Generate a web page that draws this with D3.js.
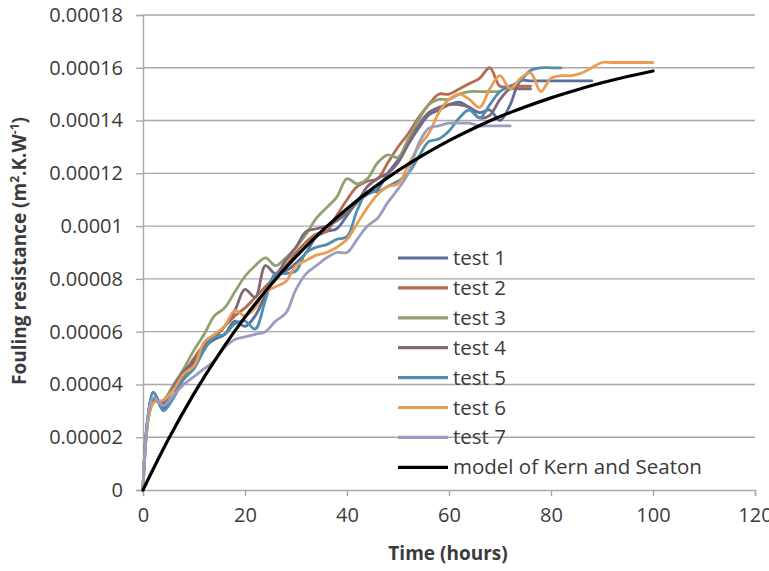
<!DOCTYPE html>
<html>
<head>
<meta charset="utf-8">
<script src="https://cdn.jsdelivr.net/npm/d3@7"></script>
<style>
  html, body { margin: 0; padding: 0; background: #fff; }
  svg { display: block; font-family: 'Open Sans', sans-serif; }
</style>
</head>
<body>
<svg id="chart" width="769" height="571"></svg>
<script>
// time stamps of the test readings (hours)
const HOURS = [0, 2, 4, 6, 8, 10, 12, 14, 16, 18, 20, 22, 24, 26, 28, 30, 32, 34, 36, 38,
  40, 42, 44, 46, 48, 50, 52, 54, 56, 58, 60, 62, 64, 66, 68, 70, 72, 74, 76, 78,
  80, 82, 84, 86, 88, 90, 92, 94, 96, 98, 100];

// fouling resistance, in units of 1e-5 m2.K/W
const TEST1 = [0, 3.7, 3.1, 3.6, 4.3, 4.8, 5.4, 5.7, 5.9, 6.4, 6.2, 6.6, 7.4, 8.2, 8.3, 8.6, 9.0, 9.6, 9.8, 9.9,
  10.4, 10.9, 11.2, 11.4, 12.0, 12.5, 13.1, 13.7, 14.2, 14.4, 14.6, 14.7, 14.5, 14.3, 14.4, 14.0, 14.6, 15.5, 15.5, 15.5,
  15.5, 15.5, 15.5, 15.5, 15.5];
const TEST2 = [0, 3.4, 3.3, 3.9, 4.4, 5.0, 5.5, 5.8, 6.2, 6.6, 6.9, 7.3, 7.7, 8.1, 8.5, 9.0, 9.4, 9.7, 9.8, 10.4,
  11.0, 11.5, 11.7, 11.8, 12.4, 13.0, 13.5, 14.1, 14.6, 15.0, 15.0, 15.2, 15.4, 15.6, 16.0, 15.3, 15.3, 15.3, 15.3];
const TEST3 = [0, 3.3, 3.4, 4.0, 4.6, 5.3, 5.9, 6.6, 6.9, 7.5, 8.1, 8.5, 8.8, 8.5, 8.8, 9.2, 9.7, 10.3, 10.7, 11.1,
  11.8, 11.6, 11.8, 12.4, 12.7, 12.6, 13.3, 14.0, 14.6, 14.8, 14.8, 15.0, 15.1, 15.1, 15.1, 15.1];
const TEST4 = [0, 3.4, 3.3, 3.9, 4.5, 4.9, 5.5, 5.8, 6.2, 6.8, 7.6, 7.3, 8.5, 8.2, 8.7, 9.2, 9.8, 9.9, 10.0, 10.2,
  10.5, 10.9, 11.5, 11.8, 12.0, 12.4, 13.1, 13.8, 14.3, 14.5, 14.6, 14.6, 14.5, 14.1, 14.2, 14.8, 15.2, 15.2, 15.2];
const TEST5 = [0, 3.7, 3.0, 3.5, 4.2, 4.6, 5.3, 5.8, 5.9, 6.3, 6.4, 6.1, 7.2, 8.2, 8.2, 8.3, 9.0, 9.2, 9.3, 9.5,
  9.6, 10.6, 11.3, 11.3, 11.5, 11.7, 12.0, 12.6, 13.2, 13.3, 13.6, 14.1, 14.4, 14.1, 14.6, 15.1, 15.3, 15.5, 15.9, 16.0,
  16.0, 16.0];
const TEST6 = [0, 3.3, 3.4, 3.8, 4.4, 4.7, 5.6, 5.9, 6.2, 6.8, 6.6, 6.9, 7.5, 7.7, 7.9, 8.5, 8.7, 8.9, 9.0, 9.2,
  9.5, 10.1, 10.7, 11.2, 11.5, 11.6, 12.3, 13.0, 13.5, 14.3, 14.8, 15.0, 14.8, 14.5, 15.2, 15.7, 15.2, 15.6, 15.8, 15.1,
  15.6, 15.7, 15.7, 15.8, 16.0, 16.2, 16.2, 16.2, 16.2, 16.2, 16.2];
const TEST7 = [0, 3.5, 3.2, 3.6, 4.0, 4.3, 4.6, 4.9, 5.4, 5.7, 5.8, 5.9, 6.0, 6.4, 6.7, 7.6, 8.2, 8.5, 8.8, 9.0,
  9.0, 9.5, 10.0, 10.3, 10.9, 11.4, 12.0, 13.1, 13.7, 13.8, 13.9, 13.9, 13.9, 13.8, 13.8, 13.8, 13.8];

// model of Kern and Seaton
const MODEL_HOURS = [0, 5, 10, 15, 20, 25, 30, 35, 40, 45, 50, 55, 60, 65, 70, 75, 80, 85, 90, 95, 100];
const MODEL_VALUES = [0, 1.93, 3.65, 5.18, 6.55, 7.76, 8.84, 9.80, 10.66, 11.42, 12.10, 12.70, 13.24, 13.72,
  14.15, 14.52, 14.86, 15.16, 15.43, 15.67, 15.88];

const SERIES_NAMES = ['test 1', 'test 2', 'test 3', 'test 4', 'test 5', 'test 6', 'test 7', 'model of Kern and Seaton'];
const SERIES_COLORS = ['#5a6e9b', '#b66a50', '#90a170', '#806879', '#4f8fae', '#eb9c52', '#9c9cbd', '#000000'];

const X_TICKS = [0, 20, 40, 60, 80, 100, 120];
const Y_TICKS = [0, 0.00002, 0.00004, 0.00006, 0.00008, 0.0001, 0.00012, 0.00014, 0.00016, 0.00018];
const Y_TICK_LABELS = ['0', '0.00002', '0.00004', '0.00006', '0.00008', '0.0001', '0.00012', '0.00014', '0.00016', '0.00018'];

const svg = d3.select('#chart');
const plotL = 143, plotR = 755, plotT = 15, plotB = 490;
const GRID = '#a8a8a8';
const TEXT = '#3b3b3b';

const x = d3.scaleLinear().domain([0, 120]).range([plotL, plotR]);
const y = d3.scaleLinear().domain([0, 0.00018]).range([plotB, plotT]);

// horizontal gridlines
svg.append('g').selectAll('line').data(Y_TICKS.slice(1)).join('line')
  .attr('x1', plotL).attr('x2', plotR)
  .attr('y1', d => y(d)).attr('y2', d => y(d))
  .attr('stroke', GRID).attr('stroke-width', 1.4);

// y axis
const yAxis = svg.append('g').attr('transform', `translate(${plotL},0)`)
  .call(d3.axisLeft(y).tickValues(Y_TICKS).tickSize(7).tickPadding(13)
    .tickFormat((d, i) => Y_TICK_LABELS[i]));
yAxis.select('.domain').attr('stroke', GRID).attr('stroke-width', 1.4);
yAxis.selectAll('.tick line').attr('stroke', GRID).attr('stroke-width', 1.4);
yAxis.selectAll('.tick text').attr('fill', TEXT).attr('font-size', 20)
  .attr('font-family', 'Open Sans, sans-serif');

// x axis
const xAxis = svg.append('g').attr('transform', `translate(0,${plotB})`)
  .call(d3.axisBottom(x).tickValues(X_TICKS).tickSize(6).tickPadding(12));
xAxis.select('.domain').attr('stroke', GRID).attr('stroke-width', 1.4);
xAxis.selectAll('.tick line').attr('stroke', GRID).attr('stroke-width', 1.4);
xAxis.selectAll('.tick text').attr('fill', TEXT).attr('font-size', 20)
  .attr('font-family', 'Open Sans, sans-serif');

// axis titles
svg.append('text')
  .attr('x', 448).attr('y', 560)
  .attr('text-anchor', 'middle')
  .attr('font-size', 19).attr('font-weight', 'bold').attr('fill', TEXT)
  .text('Time (hours)');

const yTitle = svg.append('text')
  .attr('transform', 'translate(26,251) rotate(-90)')
  .attr('text-anchor', 'middle')
  .attr('font-size', 19).attr('font-weight', 'bold').attr('fill', TEXT);
yTitle.append('tspan').text('Fouling resistance (m');
yTitle.append('tspan').attr('font-size', 12).attr('dy', -7).text('2');
yTitle.append('tspan').attr('dy', 7).text('.K.W');
yTitle.append('tspan').attr('font-size', 12).attr('dy', -7).text('-1');
yTitle.append('tspan').attr('dy', 7).text(')');

// test curves + model
const tests = [TEST1, TEST2, TEST3, TEST4, TEST5, TEST6, TEST7];
const series = tests.map(vals => vals.map((v, i) => [HOURS[i], v * 1e-5]));
series.push(MODEL_VALUES.map((v, i) => [MODEL_HOURS[i], v * 1e-5]));

const line = d3.line()
  .x(d => x(d[0])).y(d => y(d[1]))
  .curve(d3.curveCatmullRom.alpha(0.5));

svg.append('g').selectAll('path').data(series).join('path')
  .attr('d', line)
  .attr('fill', 'none')
  .attr('stroke', (d, i) => SERIES_COLORS[i])
  .attr('stroke-width', (d, i) => i === 7 ? 3.2 : 2.8)
  .attr('stroke-linejoin', 'round')
  .attr('stroke-linecap', 'round');

// legend
const legend = svg.append('g').selectAll('g').data(SERIES_NAMES).join('g')
  .attr('transform', (d, i) => `translate(398,${258 + i * 29.9})`);
legend.append('line')
  .attr('x1', 0).attr('x2', 50)
  .attr('stroke', (d, i) => SERIES_COLORS[i])
  .attr('stroke-width', 3.2);
legend.append('text')
  .attr('x', 55).attr('y', 7)
  .attr('font-size', 20.5).attr('fill', TEXT)
  .text(d => d);
</script>
</body>
</html>
